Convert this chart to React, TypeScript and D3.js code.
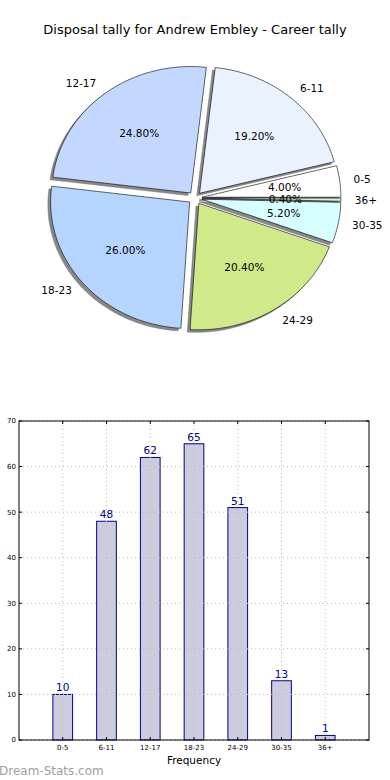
import React from "react";
import * as d3 from "d3";

const categories = ["0-5", "6-11", "12-17", "18-23", "24-29", "30-35", "36+"];
const counts = [10, 48, 62, 65, 51, 13, 1];
const pieColors = ["#ffffff", "#eaf1ff", "#c4d8ff", "#b5d5ff", "#d0ea8a", "#d8ffff", "#d8f0d8"];
const yTicks = [0, 10, 20, 30, 40, 50, 60, 70];
const title = "Disposal tally for Andrew Embley - Career tally";

const W = 390;
const H = 780;
const font = "DejaVu Sans, sans-serif";

export default function App() {
  const cx = 195, cy = 198, rx = 139, ry = 126.5;
  const explode = 0.05, shadowOff = 0.02;
  const total = d3.sum(counts);
  const pieGen = d3.pie<number>().sort(null).startAngle(0).endAngle(2 * Math.PI);
  const arcs = pieGen(counts);

  const pt = (ox: number, oy: number, r: number, a: number) => [
    ox + rx * r * Math.cos(a),
    oy - ry * r * Math.sin(a),
  ];

  const wedgePath = (ox: number, oy: number, a0: number, a1: number) => {
    const n = Math.max(2, Math.ceil(((a1 - a0) * 180) / Math.PI));
    const pts: number[][] = [[ox, oy]];
    for (let i = 0; i <= n; i++) {
      const a = a0 + ((a1 - a0) * i) / n;
      pts.push(pt(ox, oy, 1, a));
    }
    return "M" + pts.map((p) => p[0].toFixed(2) + "," + p[1].toFixed(2)).join("L") + "Z";
  };

  const wedges = arcs.map((d, i) => {
    const a0 = d.startAngle, a1 = d.endAngle;
    const am = (a0 + a1) / 2;
    const ox = cx + rx * explode * Math.cos(am);
    const oy = cy - ry * explode * Math.sin(am);
    const lab = pt(ox, oy, 1.1, am);
    const pct = pt(ox, oy, 0.6, am);
    return { i, a0, a1, am, ox, oy, lab, pct };
  });

  const left = 19, right = 369, top = 421, bottom = 740;
  const x = d3.scaleLinear().domain([-1, 7]).range([left, right]);
  const y = d3.scaleLinear().domain([0, 70]).range([bottom, top]);
  const bw = (x(1) - x(0)) * 0.45;

  return (
    <svg width={W} height={H} style={{ position: "absolute", left: 0, top: 0, background: "#fff" }} fontFamily={font}>
      <rect x={0} y={0} width={W} height={H} fill="#fff" />
      <text x={195} y={34} textAnchor="middle" fontSize={13} fill="#000">{title}</text>

      {wedges.map((w) => (
        <path key={"s" + w.i}
          d={wedgePath(w.ox - rx * shadowOff, w.oy + ry * shadowOff, w.a0, w.a1)}
          fill="#888" stroke="#777" strokeWidth={0.5} />
      ))}
      {wedges.map((w) => (
        <path key={"w" + w.i} d={wedgePath(w.ox, w.oy, w.a0, w.a1)}
          fill={pieColors[w.i]} stroke="#000" strokeWidth={0.6} strokeLinejoin="round" />
      ))}
      {wedges.map((w) => (
        <text key={"l" + w.i} x={w.lab[0]} y={w.lab[1]} dy="0.35em"
          textAnchor={w.lab[0] > w.ox ? "start" : "end"} fontSize={10.5} fill="#000">
          {categories[w.i]}
        </text>
      ))}
      {wedges.map((w) => (
        <text key={"p" + w.i} x={w.pct[0]} y={w.pct[1]} dy="0.35em"
          textAnchor="middle" fontSize={10.5} fill="#000">
          {((counts[w.i] / total) * 100).toFixed(2) + "%"}
        </text>
      ))}

      <rect x={left} y={top} width={right - left} height={bottom - top} fill="#fff" />
      {counts.map((c, i) => (
        <rect key={"b" + i} x={x(i) - bw / 2} y={y(c)} width={bw} height={y(0) - y(c)}
          fill="#ccccdf" stroke="#000088" strokeWidth={1} />
      ))}
      {yTicks.map((t) => (
        <line key={"gy" + t} x1={left} x2={right} y1={y(t)} y2={y(t)}
          stroke="#bbb" strokeWidth={1} strokeDasharray="1,3" />
      ))}
      {categories.map((c, i) => (
        <line key={"gx" + i} x1={x(i)} x2={x(i)} y1={top} y2={bottom}
          stroke="#bbb" strokeWidth={1} strokeDasharray="1,3" />
      ))}
      <rect x={left} y={top} width={right - left} height={bottom - top} fill="none" stroke="#000" strokeWidth={1} />
      {yTicks.map((t) => (
        <g key={"ty" + t}>
          <line x1={left} x2={left + 3} y1={y(t)} y2={y(t)} stroke="#000" />
          <line x1={right} x2={right - 3} y1={y(t)} y2={y(t)} stroke="#000" />
          <text x={left - 3} y={y(t)} dy="0.35em" textAnchor="end" fontSize={7} fill="#000">{t}</text>
        </g>
      ))}
      {categories.map((c, i) => (
        <g key={"tx" + i}>
          <line x1={x(i)} x2={x(i)} y1={bottom} y2={bottom - 3} stroke="#000" />
          <line x1={x(i)} x2={x(i)} y1={top} y2={top + 3} stroke="#000" />
          <text x={x(i)} y={bottom + 10} textAnchor="middle" fontSize={7} fill="#000">{c}</text>
        </g>
      ))}
      {counts.map((c, i) => (
        <text key={"v" + i} x={x(i)} y={y(c) - 3} textAnchor="middle" fontSize={10.5} fill="#000088">{c}</text>
      ))}
      <text x={(left + right) / 2} y={764} textAnchor="middle" fontSize={10.5} fill="#000">Frequency</text>
      <text x={-1} y={775} fontSize={12} fill="#a0a0a0">Dream-Stats.com</text>
    </svg>
  );
}
